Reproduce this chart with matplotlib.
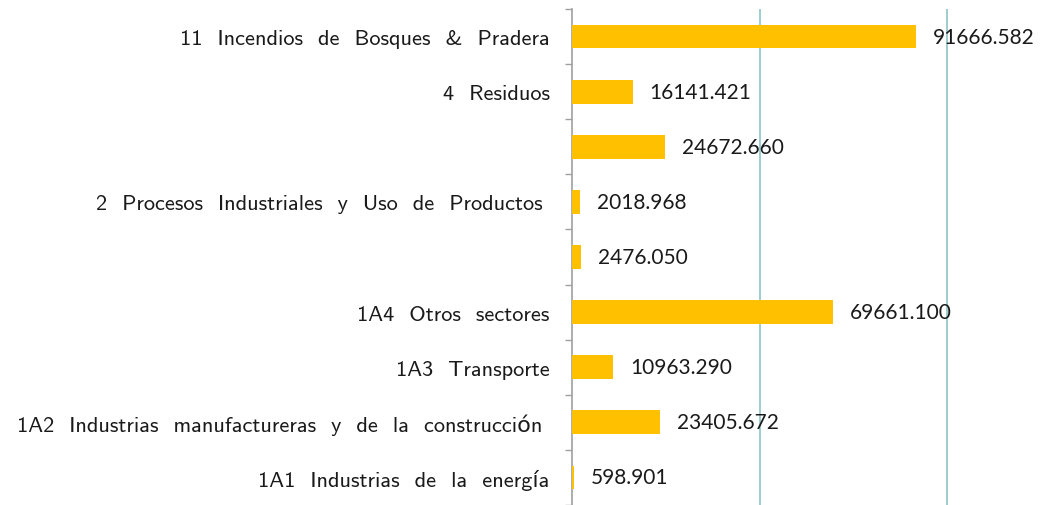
import matplotlib.pyplot as plt
import numpy as np

categories = [
    "11  Incendios  de  Bosques  &  Pradera",
    "4  Residuos",
    "",
    "2  Procesos  Industriales  y  Uso  de  Productos ",
    "",
    "1A4  Otros  sectores",
    "1A3  Transporte",
    "1A2  Industrias  manufactureras  y  de  la  construcción ",
    "1A1  Industrias  de  la  energía",
]
values = [91666.582, 16141.421, 24672.660, 2018.968, 2476.050,
          69661.100, 10963.290, 23405.672, 598.901]
value_labels = ["91666.582", "16141.421", "24672.660", "2018.968", "2476.050",
                "69661.100", "10963.290", "23405.672", "598.901"]

fig = plt.figure(figsize=(10.4, 5.06), dpi=100)
ax = fig.add_axes([572 / 1040, 0.0, 469 / 1040, 496 / 506])

n = len(categories)
ypos = np.arange(n)[::-1]
ax.barh(ypos, values, height=0.43, color="#FFC000", zorder=3)

for y, v, lab in zip(ypos, values, value_labels):
    ax.annotate(lab, (v, y), xytext=(12.2, 0), textcoords="offset points",
                ha="left", va="center", fontsize=15, family="Lato",
                color="#1a1a1a", zorder=4)

ax.set_xlim(0, 125000)
ax.set_ylim(-0.5, n - 0.5)

ax.set_yticks(ypos)
ax.set_yticklabels(categories, family=["cmss10", "DejaVu Sans"], fontsize=16.1,
                   color="#1a1a1a")
ax.tick_params(axis="y", which="major", length=0, pad=16)
ax.set_yticks(np.arange(n + 1) - 0.5, minor=True)
ax.tick_params(axis="y", which="minor", length=5, width=1, color="#a0a0a0")

ax.set_xticks([50000, 100000])
ax.tick_params(axis="x", length=0, labelbottom=False)
ax.grid(axis="x", color="#8ec3c3", linewidth=1.2, zorder=0)

for s in ["top", "right", "bottom"]:
    ax.spines[s].set_visible(False)
ax.spines["left"].set_color("#a0a0a0")
ax.spines["left"].set_linewidth(1.2)

fig.savefig("out.png", dpi=100)
